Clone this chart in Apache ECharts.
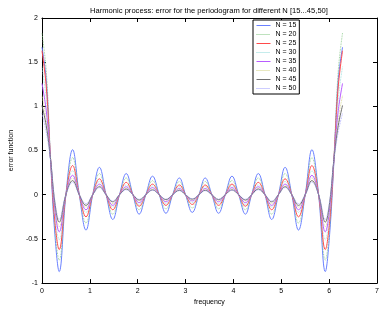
<!DOCTYPE html>
<html>
<head>
<meta charset="utf-8">
<script src="https://cdn.jsdelivr.net/npm/echarts@6/dist/echarts.min.js"></script>
<style>html,body{margin:0;padding:0;background:#fff}#c{width:382px;height:311px}</style>
</head>
<body>
<div id="c"></div>
<script>
var freq = [0,0.09,0.18,0.27,0.36,0.50,0.64,0.78,0.92,1.06,1.20,1.34,1.48,1.62,1.76,1.90,2.03,2.17,2.31,2.45,2.59,2.73,2.87,3.00,3.14,3.28,3.41,3.55,3.69,3.83,3.97,4.11,4.25,4.38,4.52,4.66,4.80,4.94,5.08,5.22,5.36,5.50,5.64,5.78,5.92,6.01,6.10,6.19,6.28];
var n15 = [1.67,1.30,0.38,-0.45,-0.87,0,0.51,0,-0.40,0,0.31,0,-0.28,0,0.24,0,-0.22,0,0.21,0,-0.21,0,0.19,0,-0.20,0,0.19,0,-0.21,0,0.21,0,-0.22,0,0.24,0,-0.28,0,0.31,0,-0.40,0,0.51,0,-0.87,-0.45,0.38,1.30,1.67];
var n20 = [1.83,1.40,0.42,-0.38,-0.74,0,0.42,0,-0.32,0,0.24,0,-0.22,0,0.19,0,-0.17,0,0.16,0,-0.16,0,0.15,0,-0.15,0,0.15,0,-0.16,0,0.16,0,-0.17,0,0.19,0,-0.22,0,0.24,0,-0.32,0,0.42,0,-0.74,-0.38,0.42,1.40,1.83];
var n25 = [1.63,1.22,0.40,-0.30,-0.62,0,0.33,0,-0.25,0,0.18,0,-0.17,0,0.14,0,-0.13,0,0.12,0,-0.12,0,0.11,0,-0.11,0,0.11,0,-0.12,0,0.12,0,-0.13,0,0.14,0,-0.17,0,0.18,0,-0.25,0,0.33,0,-0.62,-0.30,0.40,1.22,1.63];
var n30 = [1.45,1.08,0.40,-0.22,-0.51,0,0.27,0,-0.20,0,0.15,0,-0.14,0,0.11,0,-0.11,0,0.10,0,-0.10,0,0.09,0,-0.09,0,0.09,0,-0.10,0,0.10,0,-0.11,0,0.11,0,-0.14,0,0.15,0,-0.20,0,0.27,0,-0.51,-0.22,0.40,1.08,1.45];
var n35 = [1.26,0.95,0.40,-0.16,-0.42,0,0.22,0,-0.17,0,0.12,0,-0.12,0,0.09,0,-0.09,0,0.08,0,-0.08,0,0.07,0,-0.07,0,0.07,0,-0.08,0,0.08,0,-0.09,0,0.09,0,-0.12,0,0.12,0,-0.17,0,0.22,0,-0.42,-0.16,0.40,0.95,1.26];
var n40 = [1.12,0.85,0.40,-0.12,-0.36,0,0.19,0,-0.14,0,0.10,0,-0.10,0,0.075,0,-0.07,0,0.065,0,-0.065,0,0.06,0,-0.06,0,0.06,0,-0.065,0,0.065,0,-0.07,0,0.075,0,-0.10,0,0.10,0,-0.14,0,0.19,0,-0.36,-0.12,0.40,0.85,1.12];
var n45 = [1.01,0.78,0.40,-0.09,-0.31,0,0.16,0,-0.12,0,0.09,0,-0.08,0,0.065,0,-0.06,0,0.055,0,-0.055,0,0.05,0,-0.05,0,0.05,0,-0.055,0,0.055,0,-0.06,0,0.065,0,-0.08,0,0.09,0,-0.12,0,0.16,0,-0.31,-0.09,0.40,0.78,1.01];
var n50 = [0.92,0.71,0.39,-0.07,-0.28,0,0.14,0,-0.10,0,0.08,0,-0.07,0,0.055,0,-0.05,0,0.05,0,-0.05,0,0.045,0,-0.045,0,0.045,0,-0.05,0,0.05,0,-0.05,0,0.055,0,-0.07,0,0.08,0,-0.10,0,0.14,0,-0.28,-0.07,0.39,0.71,0.92];
var seriesNames = ['N = 15','N = 20','N = 25','N = 30','N = 35','N = 40','N = 45','N = 50'];
var seriesValues = [n15,n20,n25,n30,n35,n40,n45,n50];
var xTicks = [0,1,2,3,4,5,6,7];
var yTicks = [-1,-0.5,0,0.5,1,1.5,2];

var styles = [
  {color:'#6a80ff', type:'solid', width:1},
  {color:'#7cc47c', type:'dotted', width:0.8},
  {color:'#ff4a4a', type:'solid', width:1},
  {color:'#8ad8d8', type:'dotted', width:0.8},
  {color:'#b85cff', type:'solid', width:1},
  {color:'#d0d080', type:'dotted', width:0.8},
  {color:'#707070', type:'solid', width:1},
  {color:'#9a9aff', type:'dotted', width:0.8}
];

var FONT = 'Liberation Sans';
var chart = echarts.init(document.getElementById('c'), null, {renderer:'canvas'});
var series = seriesValues.map(function(vals, i){
  return {
    name: seriesNames[i], type:'line', xAxisIndex:0, yAxisIndex:0,
    data: freq.map(function(f, j){ return [f, vals[j]]; }),
    smooth: 0.4, symbol:'none', showSymbol:false,
    lineStyle:{color:styles[i].color, type:styles[i].type, width:styles[i].width},
    itemStyle:{color:styles[i].color},
    animation:false, z: 2
  };
});
function axisBase(){
  return {
    axisLine:{show:true, onZero:false, lineStyle:{color:'#000', width:1}},
    axisTick:{show:true, inside:true, length:4, lineStyle:{color:'#000'}},
    splitLine:{show:false}
  };
}
chart.setOption({
  animation:false,
  title:{text:'Harmonic process: error for the periodogram for different N [15...45,50]', left:204, textAlign:'center', top:2,
    textStyle:{fontFamily:FONT, fontSize:7.6, fontWeight:'normal', color:'#000'}},
  grid:{left:32, right:5, top:18, bottom:22, show:false},
  legend:{orient:'vertical', left:253, top:20, data:seriesNames, itemWidth:14, itemHeight:7, itemGap:2,
    padding:[2,3,2,3], borderColor:'#000', borderWidth:1, backgroundColor:'#fff',
    itemStyle:{opacity:0, borderWidth:0},
    lineStyle:{width:1},
    textStyle:{fontFamily:FONT, fontSize:7, color:'#000'}},
  xAxis:[
    Object.assign(axisBase(), {type:'value', min:0, max:7, interval:1, position:'bottom',
      name:'frequency', nameLocation:'middle', nameGap:13,
      nameTextStyle:{fontFamily:FONT, fontSize:7, color:'#000'},
      axisLabel:{fontFamily:FONT, fontSize:7, color:'#000', margin:4,
        formatter:function(v){ return xTicks.indexOf(v) >= 0 ? String(v) : ''; }}}),
    Object.assign(axisBase(), {type:'value', min:0, max:7, interval:1, position:'top', axisLabel:{show:false}})
  ],
  yAxis:[
    Object.assign(axisBase(), {type:'value', min:-1, max:2, interval:0.5, position:'left',
      name:'error function', nameLocation:'middle', nameGap:20, nameRotate:90,
      nameTextStyle:{fontFamily:FONT, fontSize:7, color:'#000'},
      axisLabel:{fontFamily:FONT, fontSize:7, color:'#000', margin:4,
        formatter:function(v){ return yTicks.indexOf(v) >= 0 ? String(v) : ''; }}}),
    Object.assign(axisBase(), {type:'value', min:-1, max:2, interval:0.5, position:'right', axisLabel:{show:false}})
  ],
  series: series
});
</script>
</body>
</html>
